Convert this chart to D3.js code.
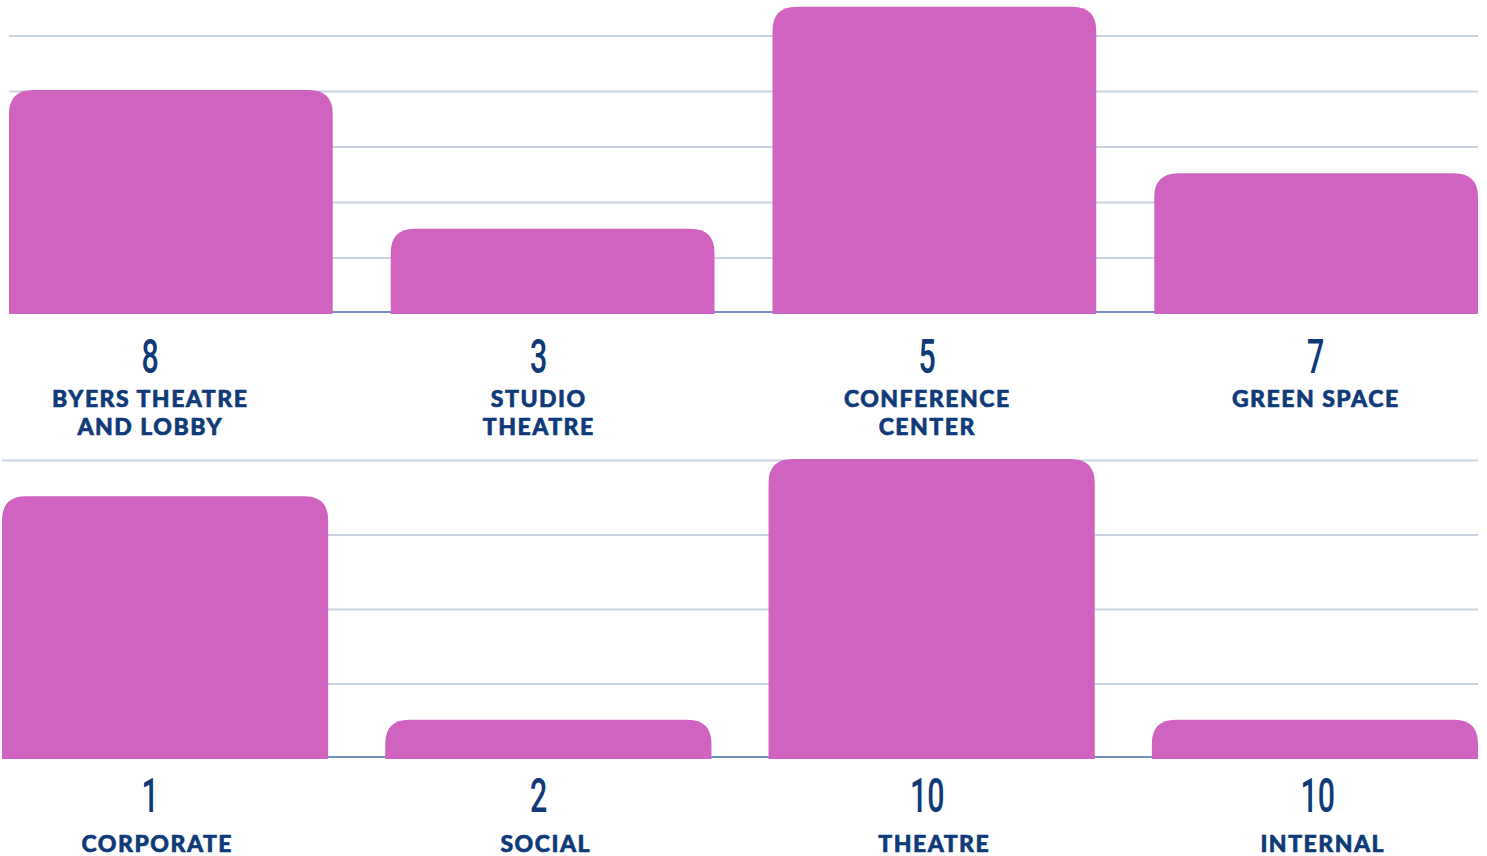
<!DOCTYPE html>
<html>
<head>
<meta charset="utf-8">
<script src="https://cdn.jsdelivr.net/npm/d3@7"></script>
<style>
  html, body { margin: 0; padding: 0; background: #ffffff; }
  svg { display: block; }
  .grid line { stroke: #c9d3e3; stroke-width: 2; }
  .grid .domain { display: none; }
  .baseline { stroke: #7391c0; stroke-width: 2; }
  .bar { fill: #d163c0; }
  .count { font-family: Roboto, sans-serif; font-weight: 500; font-size: 49px; fill: #0e3a78; }
  .name { font-family: Lato, sans-serif; font-weight: 900; font-size: 23px; letter-spacing: 1.5px; fill: #0e3a78; stroke: #0e3a78; stroke-width: 0.6px; }
</style>
</head>
<body>
<script>
// top row
const topNames = [["BYERS THEATRE", "AND LOBBY"], ["STUDIO", "THEATRE"], ["CONFERENCE", "CENTER"], ["GREEN SPACE"]];
const topCounts = [8, 3, 5, 7];
const topValues = [4, 1.5, 5.5, 2.5];
const topTicks = [0, 1, 2, 3, 4, 5];

// bottom row
const bottomNames = [["CORPORATE"], ["SOCIAL"], ["THEATRE"], ["INTERNAL"]];
const bottomCounts = [1, 2, 10, 10];
const bottomValues = [3.5, 0.5, 4, 0.5];
const bottomTicks = [0, 1, 2, 3, 4];

const width = 1487, height = 856;

const svg = d3.select("body").append("svg")
    .attr("width", width)
    .attr("height", height);

/**
 * Path for a bar with rounded top corners only
 */
function topRounded(x, y, w, h, r) {
    r = Math.min(r, h, w / 2);
    return "M" + x + "," + (y + h) +
        "V" + (y + r) +
        "Q" + x + "," + y + " " + (x + r) + "," + y +
        "H" + (x + w - r) +
        "Q" + (x + w) + "," + y + " " + (x + w) + "," + (y + r) +
        "V" + (y + h) + "Z";
}

/**
 * Draw one row of bars plus its labels
 */
function drawRow(cfg) {
    const names = cfg.names;
    const ids = names.map((d, i) => i);

    const x = d3.scaleBand().domain(ids).range(cfg.xRange).paddingInner(cfg.pad).paddingOuter(0);
    const y = d3.scaleLinear().domain([0, cfg.ticks[cfg.ticks.length - 1]]).range([cfg.base, cfg.top]);
    const lx = d3.scaleBand().domain(ids).range([-44, 1510]);

    const g = svg.append("g");

    g.append("g")
        .attr("class", "grid")
        .attr("transform", "translate(" + cfg.xRange[0] + ",0)")
        .call(d3.axisLeft(y)
            .tickValues(cfg.ticks.filter(t => t > 0))
            .tickSize(-(cfg.xRange[1] - cfg.xRange[0]))
            .tickFormat(""));

    g.append("line")
        .attr("class", "baseline")
        .attr("x1", cfg.xRange[0])
        .attr("x2", cfg.xRange[1])
        .attr("y1", y(0) - 1)
        .attr("y2", y(0) - 1);

    g.selectAll(".bar")
        .data(cfg.values)
        .enter().append("path")
        .attr("class", "bar")
        .attr("d", (d, i) => topRounded(x(i), y(d) - 1, x.bandwidth(), y(0) - y(d) + 2, 24));

    g.selectAll(".count")
        .data(cfg.counts)
        .enter().append("text")
        .attr("class", "count")
        .attr("text-anchor", "middle")
        .attr("transform", (d, i) => "translate(" + (lx(i) + lx.bandwidth() / 2 + cfg.countShift[i]) + "," + cfg.countY + ") scale(0.62,1)")
        .text(d => d);

    names.forEach((lines, i) => {
        lines.forEach((t, j) => {
            g.append("text")
                .attr("class", "name")
                .attr("text-anchor", "middle")
                .attr("x", lx(i) + lx.bandwidth() / 2 + cfg.nameShift)
                .attr("y", cfg.nameY + j * 28)
                .text(t);
        });
    });
}

drawRow({
    names: topNames, counts: topCounts, values: topValues, ticks: topTicks,
    xRange: [9, 1478], pad: 0.152, base: 313, top: 35.5,
    countY: 373, countShift: [0, 0, 0, 0], nameY: 407, nameShift: 0
});

drawRow({
    names: bottomNames, counts: bottomCounts, values: bottomValues, ticks: bottomTicks,
    xRange: [2, 1478], pad: 0.149, base: 758, top: 460,
    countY: 812, countShift: [0, 0, 0, 2], nameY: 852, nameShift: 7
});
</script>
</body>
</html>
